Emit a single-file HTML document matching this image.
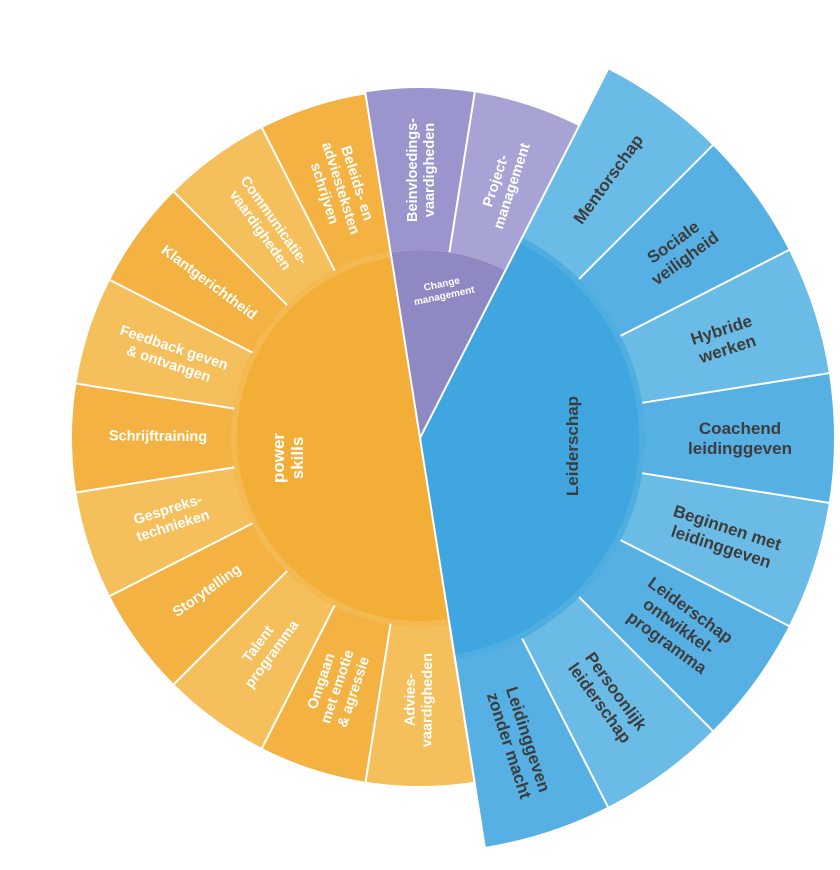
<!DOCTYPE html>
<html><head><meta charset="utf-8"><style>
html,body{margin:0;padding:0;background:#fff;}
svg{display:block;}
text{font-family:"Liberation Sans",sans-serif;font-weight:bold;}
.o{fill:#fff;font-size:14.5px;}
.b{fill:#3d3d3d;font-size:17px;}
.p{fill:#fff;font-size:14.5px;}
</style></head><body>
<svg width="840" height="870" viewBox="0 0 840 870">
<g transform="translate(420,438)" fill="none">
  <circle r="94" stroke="#f2ae37" stroke-width="188" pathLength="360" stroke-dasharray="180 180" transform="rotate(81)"/>
  <circle r="94" stroke="#8e88c3" stroke-width="188" pathLength="360" stroke-dasharray="36 324" transform="rotate(261)"/>
  <circle r="268" stroke="#f5bf5c" stroke-width="160" pathLength="360" stroke-dasharray="18 18" transform="rotate(81)"/>
  <circle r="268" stroke="#f3b241" stroke-width="160" pathLength="360" stroke-dasharray="0 18 18 0" transform="rotate(81)"/>
  <circle r="269" stroke="#9a95cc" stroke-width="162" pathLength="360" stroke-dasharray="18 342" transform="rotate(261)"/>
  <circle r="269" stroke="#a7a3d5" stroke-width="162" pathLength="360" stroke-dasharray="18 342" transform="rotate(279)"/>
  <circle r="319.5" stroke="#6abce7" stroke-width="189" pathLength="360" stroke-dasharray="18 18 18 18 18 18 18 18 0 216" transform="rotate(-63)"/>
  <circle r="319.5" stroke="#56b0e3" stroke-width="189" pathLength="360" stroke-dasharray="0 18 18 18 18 18 18 18 18 216" transform="rotate(-63)"/>
  <circle r="112.5" stroke="#3fa6df" stroke-width="225" pathLength="360" stroke-dasharray="144 216" transform="rotate(-63)"/>
  <circle r="186" stroke="#f4b950" stroke-width="6" pathLength="360" stroke-dasharray="180 180" transform="rotate(81)"/>
  <circle r="222" stroke="#4eaee2" stroke-width="6" pathLength="360" stroke-dasharray="144 216" transform="rotate(-63)"/>
  <g stroke="#fff" stroke-width="2">
    <g transform="rotate(171)"><line x1="0" y1="-188" x2="0" y2="-350"/></g>
    <g transform="rotate(189)"><line x1="0" y1="-188" x2="0" y2="-350"/></g>
    <g transform="rotate(207)"><line x1="0" y1="-188" x2="0" y2="-350"/></g>
    <g transform="rotate(225)"><line x1="0" y1="-188" x2="0" y2="-350"/></g>
    <g transform="rotate(243)"><line x1="0" y1="-188" x2="0" y2="-350"/></g>
    <g transform="rotate(261)"><line x1="0" y1="-188" x2="0" y2="-350"/></g>
    <g transform="rotate(279)"><line x1="0" y1="-188" x2="0" y2="-350"/></g>
    <g transform="rotate(297)"><line x1="0" y1="-188" x2="0" y2="-350"/></g>
    <g transform="rotate(315)"><line x1="0" y1="-188" x2="0" y2="-350"/></g>
    <g transform="rotate(333)"><line x1="0" y1="-188" x2="0" y2="-350"/></g>
    <g transform="rotate(351)"><line x1="0" y1="0" x2="0" y2="-352"/></g>
    <g transform="rotate(9)"><line x1="0" y1="-188" x2="0" y2="-352"/></g>
    <g transform="rotate(27)"><line x1="0" y1="0" x2="0" y2="-416"/></g>
    <g transform="rotate(45)"><line x1="0" y1="-225" x2="0" y2="-416"/></g>
    <g transform="rotate(63)"><line x1="0" y1="-225" x2="0" y2="-416"/></g>
    <g transform="rotate(81)"><line x1="0" y1="-225" x2="0" y2="-416"/></g>
    <g transform="rotate(99)"><line x1="0" y1="-225" x2="0" y2="-416"/></g>
    <g transform="rotate(117)"><line x1="0" y1="-225" x2="0" y2="-416"/></g>
    <g transform="rotate(135)"><line x1="0" y1="-225" x2="0" y2="-416"/></g>
    <g transform="rotate(153)"><line x1="0" y1="-225" x2="0" y2="-416"/></g>
    <g transform="rotate(171)"><line x1="0" y1="0" x2="0" y2="-416"/></g>
  </g>
</g>

<g transform="translate(420,438)" text-anchor="middle">
  <g transform="rotate(180.5) translate(0,-262) rotate(90)"><text class="o"><tspan x="0" y="-3">Advies-</tspan><tspan x="0" y="14">vaardigheden</tspan></text></g>
  <g transform="rotate(198.5) translate(0,-262) rotate(90)"><text class="o"><tspan x="0" y="-12">Omgaan</tspan><tspan x="0" y="5">met emotie</tspan><tspan x="0" y="22">&amp; agressie</tspan></text></g>
  <g transform="rotate(216.5) translate(0,-262) rotate(90)"><text class="o"><tspan x="0" y="-3">Talent</tspan><tspan x="0" y="14">programma</tspan></text></g>
  <g transform="rotate(234.5) translate(0,-262) rotate(90)"><text class="o"><tspan x="0" y="5">Storytelling</tspan></text></g>
  <g transform="rotate(252.5) translate(0,-262) rotate(90)"><text class="o"><tspan x="0" y="-3">Gespreks-</tspan><tspan x="0" y="14">technieken</tspan></text></g>
  <g transform="rotate(270.5) translate(0,-262) rotate(90)"><text class="o"><tspan x="0" y="5">Schrijftraining</tspan></text></g>
  <g transform="rotate(288.5) translate(0,-262) rotate(90)"><text class="o"><tspan x="0" y="-3">Feedback geven</tspan><tspan x="0" y="14">&amp; ontvangen</tspan></text></g>
  <g transform="rotate(306.5) translate(0,-262) rotate(90)"><text class="o"><tspan x="0" y="5">Klantgerichtheid</tspan></text></g>
  <g transform="rotate(324.5) translate(0,-262) rotate(90)"><text class="o"><tspan x="0" y="-3">Communicatie-</tspan><tspan x="0" y="14">vaardigheden</tspan></text></g>
  <g transform="rotate(342.5) translate(0,-262) rotate(90)"><text class="o"><tspan x="0" y="-12">Beleids- en</tspan><tspan x="0" y="5">adviesteksten</tspan><tspan x="0" y="22">schrijven</tspan></text></g>
  <g transform="rotate(0) translate(0,-268) rotate(-90)"><text class="p"><tspan x="0" y="-3">Beinvloedings-</tspan><tspan x="0" y="14">vaardigheden</tspan></text></g>
  <g transform="rotate(18) translate(0,-268) rotate(-90)"><text class="p"><tspan x="0" y="-3">Project-</tspan><tspan x="0" y="14">management</tspan></text></g>
  <g transform="rotate(36) translate(0,-320) rotate(-90)"><text class="b"><tspan x="0" y="6">Mentorschap</tspan></text></g>
  <g transform="rotate(54) translate(0,-320) rotate(-90)"><text class="b"><tspan x="0" y="-4">Sociale</tspan><tspan x="0" y="16">veiligheid</tspan></text></g>
  <g transform="rotate(72) translate(0,-320) rotate(-90)"><text class="b"><tspan x="0" y="-4">Hybride</tspan><tspan x="0" y="16">werken</tspan></text></g>
  <g transform="rotate(90) translate(0,-320) rotate(-90)"><text class="b"><tspan x="0" y="-4">Coachend</tspan><tspan x="0" y="16">leidinggeven</tspan></text></g>
  <g transform="rotate(108) translate(0,-320) rotate(-90)"><text class="b"><tspan x="0" y="-4">Beginnen met</tspan><tspan x="0" y="16">leidinggeven</tspan></text></g>
  <g transform="rotate(126) translate(0,-320) rotate(-90)"><text class="b"><tspan x="0" y="-14">Leiderschap</tspan><tspan x="0" y="6">ontwikkel-</tspan><tspan x="0" y="26">programma</tspan></text></g>
  <g transform="rotate(144) translate(0,-320) rotate(-90)"><text class="b"><tspan x="0" y="-4">Persoonlijk</tspan><tspan x="0" y="16">leiderschap</tspan></text></g>
  <g transform="rotate(162) translate(0,-320) rotate(-90)"><text class="b"><tspan x="0" y="-4">Leidinggeven</tspan><tspan x="0" y="16">zonder macht</tspan></text></g>
</g>

<g transform="translate(288,458) rotate(-90)" text-anchor="middle"><text fill="#fff" font-size="17"><tspan x="0" y="-4">power</tspan><tspan x="0" y="15">skills</tspan></text></g>
<g transform="translate(443,290) rotate(-12)" text-anchor="middle"><text fill="#fff" font-size="10"><tspan x="0" y="-3">Change</tspan><tspan x="0" y="9">management</tspan></text></g>
<g transform="translate(572,446) rotate(-90)" text-anchor="middle"><text fill="#3d3d3d" font-size="17" y="6">Leiderschap</text></g>
</svg>
</body></html>
